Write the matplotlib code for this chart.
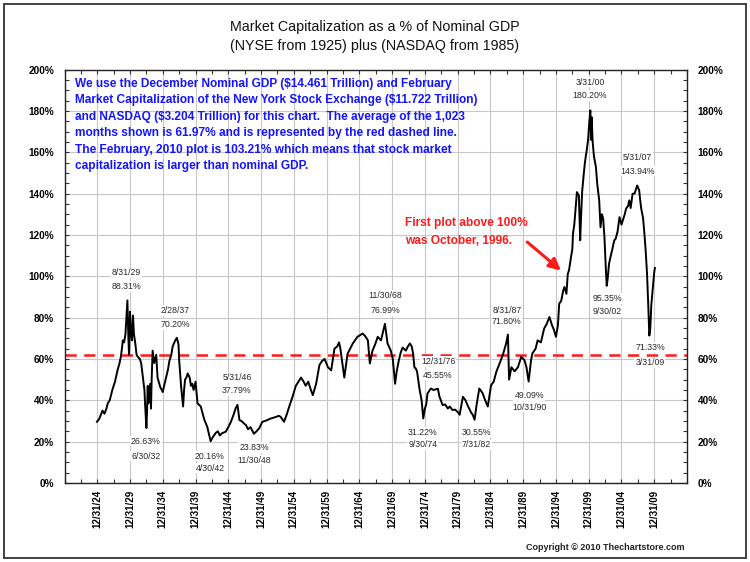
import matplotlib
matplotlib.use("Agg")
import matplotlib.pyplot as plt
from matplotlib.patches import Rectangle
from matplotlib.ticker import MultipleLocator, FixedLocator

plt.rcParams['font.family'] = ['Liberation Sans', 'DejaVu Sans']

# ---- data (decimal year, % of GDP) ----
years = [1924.95, 1925.3, 1925.8, 1926.1, 1926.4, 1926.6, 1926.9, 1927.3, 1927.7, 1928.1,
         1928.4, 1928.6, 1928.8, 1928.9, 1929.1, 1929.3, 1929.45, 1929.6, 1929.75, 1929.85,
         1930.0, 1930.15, 1930.3, 1930.45, 1930.6, 1930.8, 1931.0, 1931.2, 1931.5, 1931.7,
         1932.0, 1932.2, 1932.3, 1932.5, 1932.6, 1932.7, 1932.8, 1933.0, 1933.1, 1933.2,
         1933.3, 1933.45, 1933.7, 1934.0, 1934.2, 1934.6, 1935.0, 1935.2, 1935.5, 1935.8,
         1936.0, 1936.3, 1936.5, 1936.9, 1937.15, 1937.4, 1937.5, 1937.8, 1938.1, 1938.25,
         1938.4, 1938.6, 1938.8, 1939.1, 1939.3, 1939.5, 1939.7, 1940.0, 1940.3, 1940.8,
         1941.3, 1941.8, 1942.3, 1942.6, 1943.1, 1943.4, 1943.7, 1944.0, 1944.6, 1945.0,
         1945.4, 1945.8, 1946.1, 1946.4, 1946.6, 1946.7, 1947.0, 1947.4, 1947.7, 1948.0,
         1948.4, 1948.9, 1949.3, 1949.7, 1950.2, 1950.6, 1951.0, 1951.3, 1951.8, 1952.3,
         1952.7, 1953.0, 1953.5, 1953.9, 1954.3, 1954.8, 1955.3, 1955.7, 1956.1, 1956.5,
         1956.8, 1957.2, 1957.6, 1957.9, 1958.4, 1958.9, 1959.3, 1959.7, 1960.2, 1960.7,
         1961.2, 1961.6, 1961.9, 1962.1, 1962.4, 1962.7, 1963.2, 1963.6, 1964.0, 1964.7,
         1965.5, 1965.9, 1966.3, 1966.6, 1967.0, 1967.4, 1967.8, 1968.3, 1968.9, 1969.3,
         1969.8, 1970.1, 1970.45, 1970.7, 1971.0, 1971.3, 1971.6, 1972.1, 1972.4, 1972.7,
         1973.0, 1973.2, 1973.4, 1973.6, 1973.8, 1974.2, 1974.5, 1974.75, 1975.0, 1975.2,
         1975.4, 1975.9, 1976.3, 1976.99, 1977.2, 1977.7, 1978.1, 1978.5, 1978.8, 1979.2,
         1979.6, 1980.0, 1980.3, 1980.8, 1981.2, 1981.5, 1982.0, 1982.3, 1982.58, 1982.9,
         1983.3, 1983.8, 1984.2, 1984.6, 1985.1, 1985.5, 1985.9, 1986.4, 1986.9, 1987.4,
         1987.67, 1987.85, 1988.2, 1988.7, 1989.2, 1989.7, 1990.2, 1990.5, 1990.83, 1991.2,
         1991.4, 1991.9, 1992.2, 1992.7, 1993.2, 1993.6, 1994.0, 1994.4, 1994.7, 1995.0,
         1995.3, 1995.5, 1995.8, 1996.1, 1996.3, 1996.6, 1996.8, 1997.0, 1997.3, 1997.5,
         1997.6, 1997.8, 1998.0, 1998.2, 1998.5, 1998.7, 1998.85, 1999.0, 1999.2, 1999.4,
         1999.55, 1999.7, 1999.9, 2000.1, 2000.25, 2000.35, 2000.45, 2000.6, 2000.8, 2001.1,
         2001.3, 2001.6, 2001.8, 2002.0, 2002.2, 2002.4, 2002.6, 2002.75, 2002.9, 2003.1,
         2003.3, 2003.6, 2003.9, 2004.1, 2004.4, 2004.7, 2005.0, 2005.2, 2005.5, 2005.7,
         2006.0, 2006.2, 2006.4, 2006.7, 2007.0, 2007.4, 2007.7, 2007.85, 2008.0, 2008.3,
         2008.5, 2008.7, 2008.9, 2009.1, 2009.25, 2009.4, 2009.55, 2009.8, 2010.0, 2010.1]
values = [29.6, 31, 35, 33.5, 36, 38.5, 40, 45, 49, 54.6,
          58, 61, 66, 69, 68, 72, 80, 88.3, 70, 62,
          82.8, 72, 69, 81, 72, 67.6, 62, 61, 60, 58,
          50, 45, 38, 26.6, 35, 47, 38.5, 44, 48, 36,
          50, 64, 58, 62, 51, 46.5, 44, 47, 51, 55,
          59, 62, 66, 69, 70.2, 67, 59.4, 46.5, 37, 45,
          50, 51, 53, 51, 47, 48, 45, 49, 38.5, 37,
          31, 27, 20.2, 22, 24.3, 25, 23, 24, 24.8, 27,
          29.6, 33, 36, 37.8, 33, 30.4, 30, 28.8, 28, 26,
          27, 23.8, 25, 26.4, 29.6, 30, 30.5, 31, 31.5, 32,
          32.5, 32, 29.6, 33, 37, 41.7, 47, 49, 51, 49,
          47, 49, 45, 42.5, 48, 57, 59, 60, 56, 54.5,
          65, 66, 68, 65, 58, 51, 62.5, 65, 67.5, 70.7,
          72.3, 71, 69, 57.8, 64, 67, 70.7, 69, 77.0, 67.5,
          64, 60, 48, 54, 59, 63, 65.5, 64, 66, 67.5,
          66, 62.5, 56, 55.4, 54, 45, 40, 31.2, 36, 38,
          43.3, 45.7, 45, 45.6, 42, 37.7, 38, 36, 37, 35.3,
          35.5, 34.4, 33, 41.7, 40, 37.7, 34.4, 33, 30.6, 38,
          45.7, 43.5, 40, 37, 47.3, 49, 53.8, 57.8, 62, 67.5,
          71.8, 50, 56, 54, 56, 61, 59.4, 56, 49.1, 59.4,
          62.6, 65, 69, 68, 74.7, 77, 80.3, 76.3, 74, 70.7,
          76.3, 86.8, 88, 93, 94.8, 91.5, 101, 103, 109.3, 113,
          120.6, 125, 133, 140.7, 139, 117.4, 130, 141, 148, 154.4,
          158, 160.9, 166, 175, 180.2, 166, 177, 165, 158, 152.8,
          144.7, 136.7, 123.7, 130, 128, 119, 104.5, 95.4, 99, 106,
          109, 113, 117.4, 118, 121.6, 128.6, 125, 127, 130, 132.7,
          134, 136.7, 133, 139.9, 140, 143.9, 141.6, 137, 133, 128,
          120.6, 112, 101.3, 85, 71.3, 75, 86, 95, 102, 104]

average = 61.97

tick_years = list(range(1925, 2011, 5))
tick_labels = ['12/31/24', '12/31/29', '12/31/34', '12/31/39', '12/31/44', '12/31/49',
               '12/31/54', '12/31/59', '12/31/64', '12/31/69', '12/31/74', '12/31/79',
               '12/31/84', '12/31/89', '12/31/94', '12/31/99', '12/31/04', '12/31/09']

# point annotations: (upper text, lower text, x year, upper y, lower y)
notes = [
    ('8/31/29', '88.31%', 1929.5, 101.6, 95.0),
    ('2/28/37', '70.20%', 1936.9, 83.6, 76.8),
    ('26.63%', '6/30/32', 1932.4, 20.3, 13.0),
    ('5/31/46', '37.79%', 1946.3, 51.1, 44.6),
    ('20.16%', '4/30/42', 1942.2, 13.0, 7.2),
    ('23.83%', '11/30/48', 1948.9, 17.1, 11.1),
    ('11/30/68', '76.99%', 1968.9, 90.8, 83.6),
    ('12/31/76', '45.55%', 1977.0, 58.9, 52.2),
    ('31.22%', '9/30/74', 1974.7, 24.6, 18.8),
    ('30.55%', '7/31/82', 1982.9, 24.2, 18.4),
    ('8/31/87', '71.80%', 1987.5, 83.6, 78.0),
    ('49.09%', '10/31/90', 1990.9, 42.5, 36.7),
    ('3/31/00', '180.20%', 2000.2, 193.9, 187.4),
    ('5/31/07', '143.94%', 2007.4, 157.6, 150.9),
    ('95.35%', '9/30/02', 2002.8, 89.4, 82.8),
    ('71.33%', '3/31/09', 2009.35, 65.4, 58.3),
]

blue_lines = [
    'We use the December Nominal GDP ($14.461 Trillion) and February',
    'Market Capitalization of the New York Stock Exchange ($11.722 Trillion)',
    'and NASDAQ ($3.204 Trillion) for this chart.  The average of the 1,023',
    'months shown is 61.97% and is represented by the red dashed line.',
    'The February, 2010 plot is 103.21% which means that stock market',
    'capitalization is larger than nominal GDP.',
]

# ---- figure ----
fig = plt.figure(figsize=(7.5, 5.62), dpi=100)
fig.patch.set_facecolor('white')
ax = fig.add_axes([64.5 / 750, 79 / 562, 622.5 / 750, 413.5 / 562])

ax.set_xlim(1920, 2015)
ax.set_ylim(0, 200)

ax.grid(True, which='major', color='#c8c8c8', linewidth=0.8, zorder=0)
ax.axhline(average, color='#ff1a1a', linewidth=1.8, linestyle=(0, (4.5, 3)), zorder=2)
ax.plot(years, values, color='black', linewidth=1.4, zorder=3)

ax.xaxis.set_major_locator(FixedLocator(tick_years))
ax.set_xticklabels(tick_labels, rotation=90, fontsize=7, fontweight='bold')
ax.xaxis.set_minor_locator(MultipleLocator(2.5))
ax.yaxis.set_major_locator(MultipleLocator(20))
ax.yaxis.set_minor_locator(MultipleLocator(5))
ax.set_yticklabels([f'{int(v)}%' for v in ax.get_yticks()], fontsize=7.2, fontweight='bold')
ax.tick_params(axis='both', which='both', direction='in', length=3, width=0.8,
               top=True, right=True, labelright=True, color='#333333')
ax.tick_params(axis='y', pad=7.5)
ax.tick_params(axis='x', pad=5)
for lbl in ax.get_yticklabels(which='both'):
    lbl.set_fontweight('bold')
for s in ax.spines.values():
    s.set_color('#222222')
    s.set_linewidth(1.0)

for up, lo, x, y1, y2 in notes:
    for txt, yy in ((up, y1), (lo, y2)):
        ax.text(x, yy, txt, ha='center', va='center', fontsize=6.3, color='#2a2a2a',
                zorder=4, bbox=dict(facecolor='white', edgecolor='none', pad=0.6))

for i, line in enumerate(blue_lines):
    ax.text(1921.6, 193.1 - i * 7.95, line, ha='left', va='center', fontsize=8.6,
            fontweight='bold', color='#1414ff', zorder=5)

ax.text(1972.0, 125.6, 'First plot above 100%', ha='left', va='center', fontsize=8.6,
        fontweight='bold', color='#ff1a1a', zorder=5)
ax.text(1972.0, 116.9, 'was October, 1996.', ha='left', va='center', fontsize=8.6,
        fontweight='bold', color='#ff1a1a', zorder=5)
ax.annotate('', xy=(1996.1, 101.9), xytext=(1990.3, 117.4),
            arrowprops=dict(arrowstyle='-|>,head_length=0.7,head_width=0.35',
                            color='#ff1a1a', lw=2.2), zorder=5)

fig.text(375 / 750, 1 - 27 / 562, 'Market Capitalization as a % of Nominal GDP',
         ha='center', va='center', fontsize=10.3, color='#111111')
fig.text(375 / 750, 1 - 46 / 562, '(NYSE from 1925) plus (NASDAQ from 1985)',
         ha='center', va='center', fontsize=10.3, color='#111111')
fig.text(684 / 750, 1 - 547 / 562, 'Copyright \u00a9 2010 Thechartstore.com',
         ha='right', va='center', fontsize=6.5, fontweight='bold', color='#222222')

fig.patches.append(Rectangle((4 / 750, 4 / 562), 742 / 750, 554 / 562,
                             transform=fig.transFigure, fill=False,
                             edgecolor='#333333', linewidth=1.3))

fig.savefig('out.png', dpi=100, facecolor='white')
